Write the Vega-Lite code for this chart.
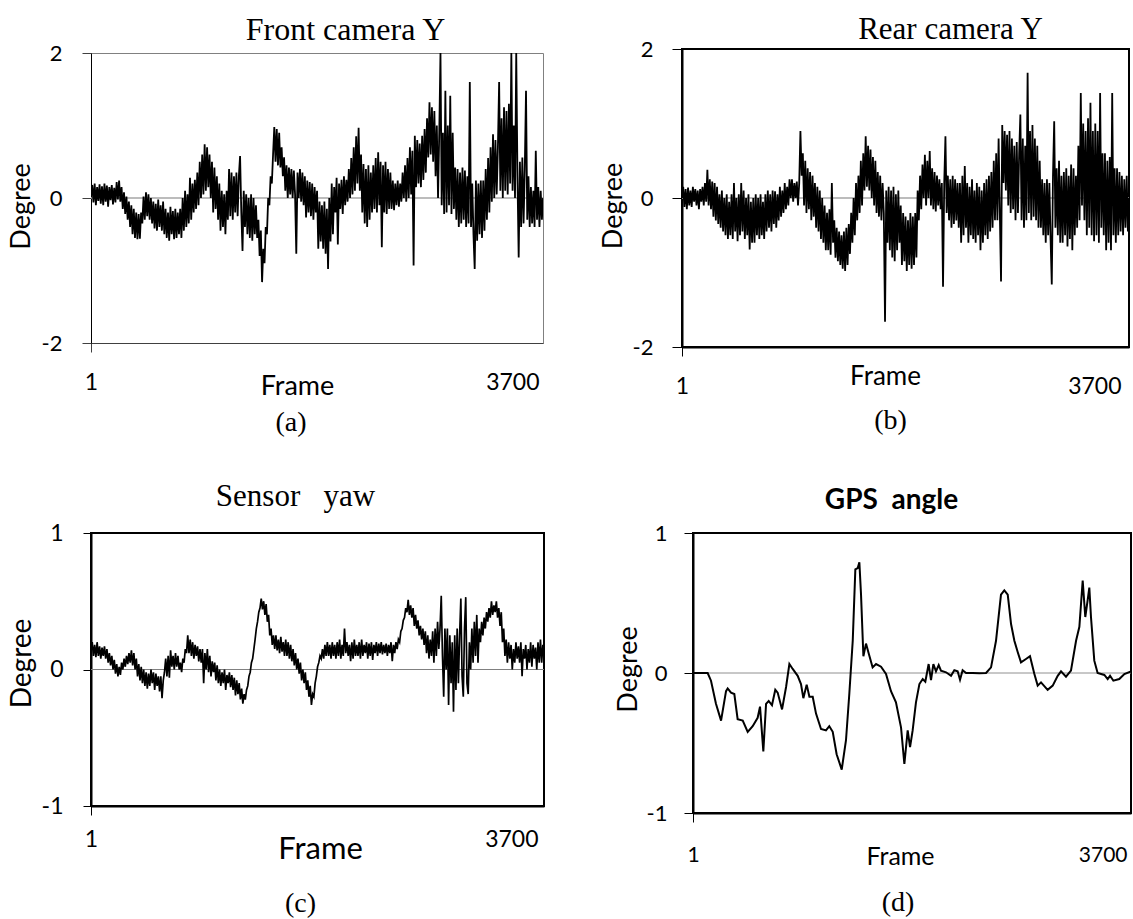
{
  "$schema": "https://vega.github.io/schema/vega-lite/v6.json",
  "background": "white",
  "padding": {"left": 7, "top": 12, "right": 0, "bottom": 0},
  "bounds": "flush",
  "spacing": 484,
  "datasets": {
    "a": [
{"f":1,"v":0.05},{"f":11,"v":0.18},{"f":21,"v":-0.06},{"f":31,"v":0.2},{"f":41,"v":-0.1},{"f":51,"v":0.15},{"f":61,"v":-0.04},{"f":71,"v":0.19},{"f":81,"v":-0.08},{"f":91,"v":0.16},
{"f":101,"v":-0.1},{"f":111,"v":0.2},{"f":121,"v":-0.05},{"f":131,"v":0.17},{"f":141,"v":-0.12},{"f":151,"v":0.15},{"f":161,"v":-0.03},{"f":171,"v":0.18},{"f":181,"v":-0.09},{"f":191,"v":0.14},
{"f":201,"v":-0.06},{"f":211,"v":0.22},{"f":221,"v":-0.02},{"f":231,"v":0.24},{"f":241,"v":-0.05},{"f":251,"v":0.15},{"f":261,"v":-0.15},{"f":271,"v":0.08},{"f":281,"v":-0.22},{"f":291,"v":0.02},
{"f":301,"v":-0.3},{"f":311,"v":-0.05},{"f":321,"v":-0.4},{"f":331,"v":-0.1},{"f":341,"v":-0.5},{"f":351,"v":-0.15},{"f":361,"v":-0.55},{"f":371,"v":-0.2},{"f":381,"v":-0.57},{"f":391,"v":-0.22},
{"f":401,"v":-0.56},{"f":411,"v":-0.2},{"f":421,"v":-0.35},{"f":431,"v":0.02},{"f":441,"v":-0.3},{"f":451,"v":0.08},{"f":461,"v":-0.25},{"f":471,"v":0.05},{"f":481,"v":-0.3},{"f":491,"v":0.0},
{"f":501,"v":-0.35},{"f":511,"v":-0.05},{"f":521,"v":-0.42},{"f":531,"v":-0.08},{"f":541,"v":-0.45},{"f":551,"v":-0.02},{"f":561,"v":-0.4},{"f":571,"v":-0.1},{"f":581,"v":-0.45},{"f":591,"v":-0.05},
{"f":601,"v":-0.5},{"f":611,"v":-0.15},{"f":621,"v":-0.55},{"f":631,"v":-0.2},{"f":641,"v":-0.59},{"f":651,"v":-0.12},{"f":661,"v":-0.5},{"f":671,"v":-0.18},{"f":681,"v":-0.57},{"f":691,"v":-0.15},
{"f":701,"v":-0.55},{"f":711,"v":-0.2},{"f":721,"v":-0.5},{"f":731,"v":-0.15},{"f":741,"v":-0.55},{"f":751,"v":0.0},{"f":761,"v":-0.45},{"f":771,"v":0.1},{"f":781,"v":-0.4},{"f":791,"v":0.05},
{"f":801,"v":-0.35},{"f":811,"v":0.28},{"f":821,"v":-0.3},{"f":831,"v":0.2},{"f":841,"v":-0.2},{"f":851,"v":0.25},{"f":861,"v":-0.15},{"f":871,"v":0.35},{"f":881,"v":-0.1},{"f":891,"v":0.5},
{"f":901,"v":0.0},{"f":911,"v":0.6},{"f":921,"v":0.05},{"f":931,"v":0.74},{"f":941,"v":0.1},{"f":951,"v":0.7},{"f":961,"v":0.15},{"f":971,"v":0.6},{"f":981,"v":0.0},{"f":991,"v":0.5},
{"f":1001,"v":-0.2},{"f":1011,"v":0.42},{"f":1021,"v":-0.15},{"f":1031,"v":0.3},{"f":1041,"v":-0.3},{"f":1051,"v":0.2},{"f":1061,"v":-0.45},{"f":1071,"v":0.1},{"f":1081,"v":-0.4},{"f":1091,"v":0.05},
{"f":1101,"v":-0.5},{"f":1111,"v":0.1},{"f":1121,"v":-0.3},{"f":1131,"v":0.4},{"f":1141,"v":-0.25},{"f":1151,"v":0.35},{"f":1161,"v":-0.3},{"f":1171,"v":0.3},{"f":1181,"v":-0.2},{"f":1191,"v":0.35},
{"f":1201,"v":-0.25},{"f":1211,"v":0.3},{"f":1221,"v":0.58},{"f":1231,"v":-0.2},{"f":1241,"v":-0.73},{"f":1251,"v":0.1},{"f":1261,"v":-0.4},{"f":1271,"v":0.05},{"f":1281,"v":-0.5},{"f":1291,"v":0.0},
{"f":1301,"v":-0.55},{"f":1311,"v":0.05},{"f":1321,"v":-0.59},{"f":1331,"v":0.0},{"f":1341,"v":-0.5},{"f":1351,"v":-0.1},{"f":1361,"v":-0.55},{"f":1371,"v":-0.3},{"f":1381,"v":-0.8},{"f":1391,"v":-0.45},
{"f":1401,"v":-1.16},{"f":1411,"v":-0.7},{"f":1421,"v":-0.9},{"f":1431,"v":-0.4},{"f":1441,"v":-0.5},{"f":1451,"v":0.0},{"f":1461,"v":-0.1},{"f":1471,"v":0.3},{"f":1481,"v":0.2},{"f":1491,"v":0.6},
{"f":1501,"v":0.98},{"f":1511,"v":0.5},{"f":1521,"v":0.95},{"f":1531,"v":0.45},{"f":1541,"v":0.9},{"f":1551,"v":0.42},{"f":1561,"v":0.7},{"f":1571,"v":0.3},{"f":1581,"v":0.56},{"f":1591,"v":0.1},
{"f":1601,"v":0.45},{"f":1611,"v":0.0},{"f":1621,"v":0.42},{"f":1631,"v":0.05},{"f":1641,"v":0.4},{"f":1651,"v":0.0},{"f":1661,"v":0.38},{"f":1671,"v":0.05},{"f":1681,"v":-0.77},{"f":1691,"v":0.35},
{"f":1701,"v":0.0},{"f":1711,"v":0.4},{"f":1721,"v":-0.05},{"f":1731,"v":0.35},{"f":1741,"v":-0.1},{"f":1751,"v":0.3},{"f":1761,"v":-0.27},{"f":1771,"v":0.24},{"f":1781,"v":-0.2},{"f":1791,"v":0.22},
{"f":1801,"v":-0.25},{"f":1811,"v":0.2},{"f":1821,"v":-0.3},{"f":1831,"v":0.15},{"f":1841,"v":-0.2},{"f":1851,"v":0.1},{"f":1861,"v":-0.7},{"f":1871,"v":-0.05},{"f":1881,"v":-0.6},{"f":1891,"v":-0.1},
{"f":1901,"v":-0.7},{"f":1911,"v":-0.05},{"f":1921,"v":-0.77},{"f":1931,"v":-0.15},{"f":1941,"v":-0.98},{"f":1951,"v":0.0},{"f":1961,"v":-0.6},{"f":1971,"v":0.2},{"f":1981,"v":-0.5},{"f":1991,"v":0.15},
{"f":2001,"v":-0.2},{"f":2011,"v":0.28},{"f":2021,"v":-0.64},{"f":2031,"v":0.2},{"f":2041,"v":-0.15},{"f":2051,"v":0.25},{"f":2061,"v":-0.22},{"f":2071,"v":0.3},{"f":2081,"v":-0.1},{"f":2091,"v":0.25},
{"f":2101,"v":-0.05},{"f":2111,"v":0.4},{"f":2121,"v":0.0},{"f":2131,"v":0.55},{"f":2141,"v":0.05},{"f":2151,"v":0.7},{"f":2161,"v":0.1},{"f":2171,"v":0.85},{"f":2181,"v":0.2},{"f":2191,"v":0.97},
{"f":2201,"v":0.1},{"f":2211,"v":0.6},{"f":2221,"v":-0.2},{"f":2231,"v":0.47},{"f":2241,"v":-0.35},{"f":2251,"v":0.4},{"f":2261,"v":-0.4},{"f":2271,"v":0.45},{"f":2281,"v":-0.3},{"f":2291,"v":0.35},
{"f":2301,"v":-0.2},{"f":2311,"v":0.45},{"f":2321,"v":-0.15},{"f":2331,"v":0.55},{"f":2341,"v":-0.2},{"f":2351,"v":0.63},{"f":2361,"v":-0.1},{"f":2371,"v":0.5},{"f":2381,"v":-0.68},{"f":2391,"v":0.45},
{"f":2401,"v":-0.2},{"f":2411,"v":0.5},{"f":2421,"v":-0.22},{"f":2431,"v":0.4},{"f":2441,"v":-0.15},{"f":2451,"v":0.35},{"f":2461,"v":-0.15},{"f":2471,"v":0.24},{"f":2481,"v":-0.17},{"f":2491,"v":0.2},
{"f":2501,"v":-0.1},{"f":2511,"v":0.24},{"f":2521,"v":-0.12},{"f":2531,"v":0.2},{"f":2541,"v":-0.05},{"f":2551,"v":0.35},{"f":2561,"v":0.0},{"f":2571,"v":0.45},{"f":2581,"v":-0.05},{"f":2591,"v":0.55},
{"f":2601,"v":0.0},{"f":2611,"v":0.7},{"f":2621,"v":0.05},{"f":2631,"v":0.65},{"f":2641,"v":-0.93},{"f":2651,"v":0.86},{"f":2661,"v":0.15},{"f":2671,"v":0.8},{"f":2681,"v":0.2},{"f":2691,"v":0.75},
{"f":2701,"v":0.15},{"f":2711,"v":0.86},{"f":2721,"v":0.25},{"f":2731,"v":0.95},{"f":2741,"v":0.35},{"f":2751,"v":1.1},{"f":2761,"v":0.56},{"f":2771,"v":1.32},{"f":2781,"v":0.6},{"f":2791,"v":1.25},
{"f":2801,"v":0.5},{"f":2811,"v":1.2},{"f":2821,"v":0.3},{"f":2831,"v":1.0},{"f":2841,"v":0.0},{"f":2851,"v":0.9},{"f":2861,"v":2.0},{"f":2871,"v":-0.1},{"f":2881,"v":0.9},{"f":2891,"v":-0.22},
{"f":2901,"v":1.48},{"f":2911,"v":-0.2},{"f":2921,"v":1.0},{"f":2931,"v":-0.1},{"f":2941,"v":1.41},{"f":2951,"v":-0.22},{"f":2961,"v":0.9},{"f":2971,"v":-0.15},{"f":2981,"v":0.42},{"f":2991,"v":-0.3},
{"f":3001,"v":0.4},{"f":3011,"v":-0.4},{"f":3021,"v":0.35},{"f":3031,"v":-0.35},{"f":3041,"v":0.42},{"f":3051,"v":-0.3},{"f":3061,"v":0.38},{"f":3071,"v":-0.4},{"f":3081,"v":0.3},{"f":3091,"v":-0.35},
{"f":3101,"v":1.6},{"f":3111,"v":-0.4},{"f":3121,"v":0.2},{"f":3131,"v":-0.5},{"f":3141,"v":-0.98},{"f":3151,"v":0.24},{"f":3161,"v":-0.59},{"f":3171,"v":0.2},{"f":3181,"v":-0.5},{"f":3191,"v":0.24},
{"f":3201,"v":-0.55},{"f":3211,"v":0.24},{"f":3221,"v":-0.45},{"f":3231,"v":0.4},{"f":3241,"v":-0.3},{"f":3251,"v":0.55},{"f":3261,"v":-0.2},{"f":3271,"v":0.7},{"f":3281,"v":-0.05},{"f":3291,"v":0.88},
{"f":3301,"v":0.0},{"f":3311,"v":0.8},{"f":3321,"v":0.05},{"f":3331,"v":0.7},{"f":3341,"v":1.6},{"f":3351,"v":0.1},{"f":3361,"v":1.1},{"f":3371,"v":0.0},{"f":3381,"v":1.25},{"f":3391,"v":0.1},
{"f":3401,"v":1.2},{"f":3411,"v":0.05},{"f":3421,"v":1.3},{"f":3431,"v":0.2},{"f":3441,"v":2.0},{"f":3451,"v":0.1},{"f":3461,"v":1.0},{"f":3471,"v":0.0},{"f":3481,"v":2.0},{"f":3491,"v":0.3},
{"f":3501,"v":-0.82},{"f":3511,"v":0.5},{"f":3521,"v":-0.4},{"f":3531,"v":0.56},{"f":3541,"v":-0.35},{"f":3551,"v":0.4},{"f":3561,"v":1.48},{"f":3571,"v":-0.3},{"f":3581,"v":0.3},{"f":3591,"v":-0.4},
{"f":3601,"v":0.15},{"f":3611,"v":-0.35},{"f":3621,"v":0.1},{"f":3631,"v":-0.4},{"f":3641,"v":0.65},{"f":3651,"v":-0.3},{"f":3661,"v":0.15},{"f":3671,"v":-0.4},{"f":3681,"v":0.1},{"f":3691,"v":-0.3},
{"f":3700,"v":0.0}],
    "b": [
{"f":1,"v":0.0},{"f":11,"v":0.15},{"f":21,"v":-0.12},{"f":31,"v":0.12},{"f":41,"v":-0.15},{"f":51,"v":0.14},{"f":61,"v":-0.1},{"f":71,"v":0.1},{"f":81,"v":-0.12},{"f":91,"v":0.15},
{"f":101,"v":-0.05},{"f":111,"v":0.12},{"f":121,"v":-0.1},{"f":131,"v":0.1},{"f":141,"v":-0.15},{"f":151,"v":0.12},{"f":161,"v":-0.05},{"f":171,"v":0.15},{"f":181,"v":-0.1},{"f":191,"v":0.2},
{"f":201,"v":-0.05},{"f":211,"v":0.38},{"f":221,"v":-0.1},{"f":231,"v":0.25},{"f":241,"v":-0.15},{"f":251,"v":0.22},{"f":261,"v":-0.25},{"f":271,"v":0.2},{"f":281,"v":-0.3},{"f":291,"v":0.15},
{"f":301,"v":-0.35},{"f":311,"v":0.05},{"f":321,"v":-0.4},{"f":331,"v":0.1},{"f":341,"v":-0.45},{"f":351,"v":0.0},{"f":361,"v":-0.5},{"f":371,"v":0.05},{"f":381,"v":-0.55},{"f":391,"v":-0.05},
{"f":401,"v":-0.5},{"f":411,"v":0.05},{"f":421,"v":-0.55},{"f":431,"v":0.2},{"f":441,"v":-0.45},{"f":451,"v":0.0},{"f":461,"v":-0.58},{"f":471,"v":0.05},{"f":481,"v":-0.5},{"f":491,"v":0.2},
{"f":501,"v":-0.45},{"f":511,"v":0.1},{"f":521,"v":-0.55},{"f":531,"v":0.0},{"f":541,"v":-0.5},{"f":551,"v":0.05},{"f":561,"v":-0.69},{"f":571,"v":-0.05},{"f":581,"v":-0.6},{"f":591,"v":0.0},
{"f":601,"v":-0.6},{"f":611,"v":0.05},{"f":621,"v":-0.5},{"f":631,"v":0.0},{"f":641,"v":-0.55},{"f":651,"v":0.05},{"f":661,"v":-0.5},{"f":671,"v":-0.05},{"f":681,"v":-0.55},{"f":691,"v":0.05},
{"f":701,"v":-0.45},{"f":711,"v":0.1},{"f":721,"v":-0.4},{"f":731,"v":0.05},{"f":741,"v":-0.45},{"f":751,"v":0.1},{"f":761,"v":-0.35},{"f":771,"v":0.09},{"f":781,"v":-0.4},{"f":791,"v":0.05},
{"f":801,"v":-0.3},{"f":811,"v":0.15},{"f":821,"v":-0.25},{"f":831,"v":0.1},{"f":841,"v":-0.2},{"f":851,"v":0.2},{"f":861,"v":-0.15},{"f":871,"v":0.15},{"f":881,"v":-0.1},{"f":891,"v":0.25},
{"f":901,"v":0.0},{"f":911,"v":0.25},{"f":921,"v":-0.05},{"f":931,"v":0.2},{"f":941,"v":0.0},{"f":951,"v":0.22},{"f":961,"v":-0.1},{"f":971,"v":0.2},{"f":981,"v":0.9},{"f":991,"v":0.3},
{"f":1001,"v":0.6},{"f":1011,"v":-0.1},{"f":1021,"v":0.5},{"f":1031,"v":-0.2},{"f":1041,"v":0.4},{"f":1051,"v":-0.15},{"f":1061,"v":0.35},{"f":1071,"v":-0.3},{"f":1081,"v":0.3},{"f":1091,"v":-0.25},
{"f":1101,"v":0.2},{"f":1111,"v":-0.4},{"f":1121,"v":0.15},{"f":1131,"v":-0.45},{"f":1141,"v":0.1},{"f":1151,"v":-0.55},{"f":1161,"v":0.0},{"f":1171,"v":-0.6},{"f":1181,"v":-0.1},{"f":1191,"v":-0.7},
{"f":1201,"v":-0.2},{"f":1211,"v":-0.7},{"f":1221,"v":-0.15},{"f":1231,"v":-0.76},{"f":1241,"v":0.2},{"f":1251,"v":-0.6},{"f":1261,"v":-0.3},{"f":1271,"v":-0.8},{"f":1281,"v":-0.4},{"f":1291,"v":-0.85},
{"f":1301,"v":-0.45},{"f":1311,"v":-0.9},{"f":1321,"v":-0.5},{"f":1331,"v":-0.95},{"f":1341,"v":-0.45},{"f":1351,"v":-0.98},{"f":1361,"v":-0.4},{"f":1371,"v":-0.9},{"f":1381,"v":-0.35},{"f":1391,"v":-0.75},
{"f":1401,"v":-0.2},{"f":1411,"v":-0.6},{"f":1421,"v":0.0},{"f":1431,"v":-0.5},{"f":1441,"v":0.2},{"f":1451,"v":-0.3},{"f":1461,"v":0.3},{"f":1471,"v":-0.2},{"f":1481,"v":0.5},{"f":1491,"v":-0.1},
{"f":1501,"v":0.6},{"f":1511,"v":0.1},{"f":1521,"v":0.83},{"f":1531,"v":0.15},{"f":1541,"v":0.7},{"f":1551,"v":0.1},{"f":1561,"v":0.65},{"f":1571,"v":0.0},{"f":1581,"v":0.55},{"f":1591,"v":-0.1},
{"f":1601,"v":0.5},{"f":1611,"v":-0.2},{"f":1621,"v":0.35},{"f":1631,"v":-0.25},{"f":1641,"v":0.3},{"f":1651,"v":-0.3},{"f":1661,"v":0.2},{"f":1671,"v":-0.2},{"f":1681,"v":-1.66},{"f":1691,"v":0.1},
{"f":1701,"v":-0.6},{"f":1711,"v":0.15},{"f":1721,"v":-0.7},{"f":1731,"v":0.1},{"f":1741,"v":-0.8},{"f":1751,"v":0.15},{"f":1761,"v":-0.85},{"f":1771,"v":0.05},{"f":1781,"v":-0.7},{"f":1791,"v":0.1},
{"f":1801,"v":-0.6},{"f":1811,"v":-0.1},{"f":1821,"v":-0.9},{"f":1831,"v":-0.2},{"f":1841,"v":-0.85},{"f":1851,"v":-0.25},{"f":1861,"v":-0.98},{"f":1871,"v":-0.3},{"f":1881,"v":-0.9},{"f":1891,"v":-0.2},
{"f":1901,"v":-0.95},{"f":1911,"v":-0.25},{"f":1921,"v":-0.9},{"f":1931,"v":-0.2},{"f":1941,"v":-0.8},{"f":1951,"v":0.1},{"f":1961,"v":-0.3},{"f":1971,"v":0.3},{"f":1981,"v":-0.15},{"f":1991,"v":0.45},
{"f":2001,"v":0.0},{"f":2011,"v":0.58},{"f":2021,"v":-0.1},{"f":2031,"v":0.5},{"f":2041,"v":0.0},{"f":2051,"v":0.63},{"f":2061,"v":-0.1},{"f":2071,"v":0.4},{"f":2081,"v":-0.15},{"f":2091,"v":0.35},
{"f":2101,"v":-0.18},{"f":2111,"v":0.3},{"f":2121,"v":-0.1},{"f":2131,"v":0.25},{"f":2141,"v":-0.15},{"f":2151,"v":0.2},{"f":2161,"v":-1.19},{"f":2171,"v":0.2},{"f":2181,"v":0.83},{"f":2191,"v":-0.2},
{"f":2201,"v":0.3},{"f":2211,"v":-0.3},{"f":2221,"v":0.25},{"f":2231,"v":-0.4},{"f":2241,"v":0.3},{"f":2251,"v":-0.35},{"f":2261,"v":0.25},{"f":2271,"v":-0.3},{"f":2281,"v":0.2},{"f":2291,"v":-0.4},
{"f":2301,"v":0.2},{"f":2311,"v":-0.6},{"f":2321,"v":0.3},{"f":2331,"v":-0.5},{"f":2341,"v":0.43},{"f":2351,"v":-0.4},{"f":2361,"v":0.2},{"f":2371,"v":-0.6},{"f":2381,"v":0.15},{"f":2391,"v":-0.5},
{"f":2401,"v":0.25},{"f":2411,"v":-0.55},{"f":2421,"v":0.1},{"f":2431,"v":-0.6},{"f":2441,"v":0.2},{"f":2451,"v":-0.5},{"f":2461,"v":0.15},{"f":2471,"v":-0.7},{"f":2481,"v":0.1},{"f":2491,"v":-0.6},
{"f":2501,"v":0.2},{"f":2511,"v":-0.5},{"f":2521,"v":0.25},{"f":2531,"v":-0.55},{"f":2541,"v":0.3},{"f":2551,"v":-0.45},{"f":2561,"v":0.35},{"f":2571,"v":-0.4},{"f":2581,"v":0.5},{"f":2591,"v":-0.3},
{"f":2601,"v":0.6},{"f":2611,"v":-0.3},{"f":2621,"v":0.8},{"f":2631,"v":-0.2},{"f":2641,"v":-1.12},{"f":2651,"v":0.98},{"f":2661,"v":0.2},{"f":2671,"v":0.9},{"f":2681,"v":0.1},{"f":2691,"v":0.85},
{"f":2701,"v":-0.1},{"f":2711,"v":0.9},{"f":2721,"v":-0.2},{"f":2731,"v":0.8},{"f":2741,"v":-0.15},{"f":2751,"v":0.7},{"f":2761,"v":-0.3},{"f":2771,"v":0.75},{"f":2781,"v":-0.2},{"f":2791,"v":0.6},
{"f":2801,"v":1.12},{"f":2811,"v":-0.3},{"f":2821,"v":0.8},{"f":2831,"v":-0.4},{"f":2841,"v":0.7},{"f":2851,"v":-0.3},{"f":2861,"v":1.68},{"f":2871,"v":-0.2},{"f":2881,"v":0.9},{"f":2891,"v":-0.3},
{"f":2901,"v":0.98},{"f":2911,"v":-0.25},{"f":2921,"v":0.8},{"f":2931,"v":-0.3},{"f":2941,"v":0.7},{"f":2951,"v":-0.4},{"f":2961,"v":0.5},{"f":2971,"v":-0.4},{"f":2981,"v":0.25},{"f":2991,"v":-0.5},
{"f":3001,"v":0.2},{"f":3011,"v":-0.6},{"f":3021,"v":0.25},{"f":3031,"v":-0.5},{"f":3041,"v":0.2},{"f":3051,"v":-0.55},{"f":3061,"v":-1.16},{"f":3071,"v":0.3},{"f":3081,"v":1.03},{"f":3091,"v":-0.4},
{"f":3101,"v":0.4},{"f":3111,"v":-0.5},{"f":3121,"v":0.5},{"f":3131,"v":-0.6},{"f":3141,"v":0.3},{"f":3151,"v":-0.6},{"f":3161,"v":0.35},{"f":3171,"v":-0.5},{"f":3181,"v":0.4},{"f":3191,"v":-0.65},
{"f":3201,"v":0.3},{"f":3211,"v":-0.55},{"f":3221,"v":0.45},{"f":3231,"v":-0.7},{"f":3241,"v":0.4},{"f":3251,"v":-0.5},{"f":3261,"v":0.3},{"f":3271,"v":-0.4},{"f":3281,"v":0.7},{"f":3291,"v":-0.3},
{"f":3301,"v":1.41},{"f":3311,"v":-0.1},{"f":3321,"v":1.0},{"f":3331,"v":-0.3},{"f":3341,"v":0.9},{"f":3351,"v":-0.5},{"f":3361,"v":1.07},{"f":3371,"v":-0.4},{"f":3381,"v":1.28},{"f":3391,"v":-0.5},
{"f":3401,"v":0.9},{"f":3411,"v":-0.58},{"f":3421,"v":1.0},{"f":3431,"v":-0.5},{"f":3441,"v":0.9},{"f":3451,"v":-0.6},{"f":3461,"v":1.41},{"f":3471,"v":-0.4},{"f":3481,"v":0.6},{"f":3491,"v":-0.5},
{"f":3501,"v":0.6},{"f":3511,"v":-0.7},{"f":3521,"v":0.5},{"f":3531,"v":-0.6},{"f":3541,"v":0.55},{"f":3551,"v":-0.7},{"f":3561,"v":1.41},{"f":3571,"v":-0.5},{"f":3581,"v":0.4},{"f":3591,"v":-0.6},
{"f":3601,"v":0.4},{"f":3611,"v":-0.5},{"f":3621,"v":0.35},{"f":3631,"v":-0.45},{"f":3641,"v":0.3},{"f":3651,"v":-0.5},{"f":3661,"v":0.25},{"f":3671,"v":-0.4},{"f":3681,"v":0.3},{"f":3691,"v":-0.45},
{"f":3700,"v":0.0}],
    "c": [
{"f":1,"v":0.15},{"f":11,"v":0.2},{"f":21,"v":0.1},{"f":31,"v":0.18},{"f":41,"v":0.09},{"f":51,"v":0.2},{"f":61,"v":0.1},{"f":71,"v":0.17},{"f":81,"v":0.08},{"f":91,"v":0.16},
{"f":101,"v":0.1},{"f":111,"v":0.17},{"f":121,"v":0.08},{"f":131,"v":0.15},{"f":141,"v":0.05},{"f":151,"v":0.12},{"f":161,"v":0.03},{"f":171,"v":0.1},{"f":181,"v":0.0},{"f":191,"v":0.07},
{"f":201,"v":-0.03},{"f":211,"v":0.04},{"f":221,"v":-0.05},{"f":231,"v":0.02},{"f":241,"v":-0.04},{"f":251,"v":0.05},{"f":261,"v":0.0},{"f":271,"v":0.08},{"f":281,"v":0.02},{"f":291,"v":0.1},
{"f":301,"v":0.04},{"f":311,"v":0.12},{"f":321,"v":0.05},{"f":331,"v":0.14},{"f":341,"v":0.03},{"f":351,"v":0.12},{"f":361,"v":0.0},{"f":371,"v":0.08},{"f":381,"v":-0.05},{"f":391,"v":0.04},
{"f":401,"v":-0.08},{"f":411,"v":0.02},{"f":421,"v":-0.1},{"f":431,"v":0.0},{"f":441,"v":-0.12},{"f":451,"v":-0.02},{"f":461,"v":-0.14},{"f":471,"v":-0.03},{"f":481,"v":-0.12},{"f":491,"v":0.0},
{"f":501,"v":-0.1},{"f":511,"v":-0.02},{"f":521,"v":-0.15},{"f":531,"v":-0.03},{"f":541,"v":-0.12},{"f":551,"v":-0.05},{"f":561,"v":-0.16},{"f":571,"v":-0.05},{"f":581,"v":-0.21},{"f":591,"v":-0.08},
{"f":601,"v":-0.02},{"f":611,"v":0.08},{"f":621,"v":-0.05},{"f":631,"v":0.1},{"f":641,"v":-0.06},{"f":651,"v":0.14},{"f":661,"v":0.02},{"f":671,"v":0.1},{"f":681,"v":0.0},{"f":691,"v":0.12},
{"f":701,"v":0.02},{"f":711,"v":0.1},{"f":721,"v":0.0},{"f":731,"v":0.05},{"f":741,"v":-0.02},{"f":751,"v":0.08},{"f":761,"v":0.05},{"f":771,"v":0.15},{"f":781,"v":0.12},{"f":791,"v":0.25},
{"f":801,"v":0.12},{"f":811,"v":0.22},{"f":821,"v":0.1},{"f":831,"v":0.2},{"f":841,"v":0.08},{"f":851,"v":0.18},{"f":861,"v":0.1},{"f":871,"v":0.17},{"f":881,"v":0.06},{"f":891,"v":0.15},
{"f":901,"v":0.05},{"f":911,"v":0.15},{"f":921,"v":-0.1},{"f":931,"v":0.12},{"f":941,"v":0.0},{"f":951,"v":0.15},{"f":961,"v":-0.02},{"f":971,"v":0.1},{"f":981,"v":-0.05},{"f":991,"v":0.06},
{"f":1001,"v":-0.02},{"f":1011,"v":0.05},{"f":1021,"v":-0.08},{"f":1031,"v":0.03},{"f":1041,"v":-0.1},{"f":1051,"v":0.0},{"f":1061,"v":-0.12},{"f":1071,"v":-0.02},{"f":1081,"v":-0.1},{"f":1091,"v":0.0},
{"f":1101,"v":-0.15},{"f":1111,"v":-0.04},{"f":1121,"v":-0.1},{"f":1131,"v":-0.02},{"f":1141,"v":-0.13},{"f":1151,"v":-0.04},{"f":1161,"v":-0.15},{"f":1171,"v":-0.06},{"f":1181,"v":-0.19},{"f":1191,"v":-0.08},
{"f":1201,"v":-0.18},{"f":1211,"v":-0.1},{"f":1221,"v":-0.22},{"f":1231,"v":-0.14},{"f":1241,"v":-0.25},{"f":1251,"v":-0.18},{"f":1261,"v":-0.22},{"f":1271,"v":-0.15},{"f":1281,"v":-0.12},{"f":1291,"v":-0.05},
{"f":1301,"v":-0.02},{"f":1311,"v":0.05},{"f":1321,"v":0.08},{"f":1331,"v":0.15},{"f":1341,"v":0.22},{"f":1351,"v":0.3},{"f":1361,"v":0.35},{"f":1371,"v":0.42},{"f":1381,"v":0.45},{"f":1391,"v":0.52},
{"f":1401,"v":0.44},{"f":1411,"v":0.5},{"f":1421,"v":0.4},{"f":1431,"v":0.48},{"f":1441,"v":0.35},{"f":1451,"v":0.4},{"f":1461,"v":0.25},{"f":1471,"v":0.3},{"f":1481,"v":0.18},{"f":1491,"v":0.25},
{"f":1501,"v":0.15},{"f":1511,"v":0.25},{"f":1521,"v":0.14},{"f":1531,"v":0.22},{"f":1541,"v":0.12},{"f":1551,"v":0.24},{"f":1561,"v":0.13},{"f":1571,"v":0.2},{"f":1581,"v":0.1},{"f":1591,"v":0.22},
{"f":1601,"v":0.1},{"f":1611,"v":0.2},{"f":1621,"v":0.08},{"f":1631,"v":0.18},{"f":1641,"v":0.06},{"f":1651,"v":0.15},{"f":1661,"v":0.03},{"f":1671,"v":0.12},{"f":1681,"v":0.0},{"f":1691,"v":0.08},
{"f":1701,"v":-0.03},{"f":1711,"v":0.05},{"f":1721,"v":-0.08},{"f":1731,"v":0.0},{"f":1741,"v":-0.1},{"f":1751,"v":-0.02},{"f":1761,"v":-0.15},{"f":1771,"v":-0.08},{"f":1781,"v":-0.2},{"f":1791,"v":-0.12},
{"f":1801,"v":-0.26},{"f":1811,"v":-0.18},{"f":1821,"v":-0.2},{"f":1831,"v":-0.1},{"f":1841,"v":-0.05},{"f":1851,"v":0.02},{"f":1861,"v":0.05},{"f":1871,"v":0.1},{"f":1881,"v":0.08},{"f":1891,"v":0.15},
{"f":1901,"v":0.08},{"f":1911,"v":0.18},{"f":1921,"v":0.1},{"f":1931,"v":0.2},{"f":1941,"v":0.1},{"f":1951,"v":0.18},{"f":1961,"v":0.08},{"f":1971,"v":0.2},{"f":1981,"v":0.1},{"f":1991,"v":0.18},
{"f":2001,"v":0.08},{"f":2011,"v":0.2},{"f":2021,"v":0.1},{"f":2031,"v":0.22},{"f":2041,"v":0.08},{"f":2051,"v":0.18},{"f":2061,"v":0.1},{"f":2071,"v":0.3},{"f":2081,"v":0.12},{"f":2091,"v":0.2},
{"f":2101,"v":0.1},{"f":2111,"v":0.18},{"f":2121,"v":0.06},{"f":2131,"v":0.2},{"f":2141,"v":0.08},{"f":2151,"v":0.22},{"f":2161,"v":0.1},{"f":2171,"v":0.18},{"f":2181,"v":0.1},{"f":2191,"v":0.2},
{"f":2201,"v":0.08},{"f":2211,"v":0.22},{"f":2221,"v":0.1},{"f":2231,"v":0.18},{"f":2241,"v":0.12},{"f":2251,"v":0.2},{"f":2261,"v":0.08},{"f":2271,"v":0.19},{"f":2281,"v":0.1},{"f":2291,"v":0.2},
{"f":2301,"v":0.07},{"f":2311,"v":0.18},{"f":2321,"v":0.12},{"f":2331,"v":0.2},{"f":2341,"v":0.1},{"f":2351,"v":0.19},{"f":2361,"v":0.12},{"f":2371,"v":0.2},{"f":2381,"v":0.11},{"f":2391,"v":0.18},
{"f":2401,"v":0.12},{"f":2411,"v":0.19},{"f":2421,"v":0.1},{"f":2431,"v":0.18},{"f":2441,"v":0.12},{"f":2451,"v":0.2},{"f":2461,"v":0.06},{"f":2471,"v":0.18},{"f":2481,"v":0.12},{"f":2491,"v":0.2},
{"f":2501,"v":0.15},{"f":2511,"v":0.22},{"f":2521,"v":0.2},{"f":2531,"v":0.28},{"f":2541,"v":0.3},{"f":2551,"v":0.36},{"f":2561,"v":0.38},{"f":2571,"v":0.45},{"f":2581,"v":0.42},{"f":2591,"v":0.51},
{"f":2601,"v":0.4},{"f":2611,"v":0.47},{"f":2621,"v":0.38},{"f":2631,"v":0.45},{"f":2641,"v":0.32},{"f":2651,"v":0.4},{"f":2661,"v":0.3},{"f":2671,"v":0.36},{"f":2681,"v":0.25},{"f":2691,"v":0.32},
{"f":2701,"v":0.22},{"f":2711,"v":0.3},{"f":2721,"v":0.18},{"f":2731,"v":0.28},{"f":2741,"v":0.12},{"f":2751,"v":0.25},{"f":2761,"v":0.08},{"f":2771,"v":0.22},{"f":2781,"v":0.1},{"f":2791,"v":0.28},
{"f":2801,"v":0.05},{"f":2811,"v":0.3},{"f":2821,"v":0.1},{"f":2831,"v":0.35},{"f":2841,"v":0.15},{"f":2851,"v":0.3},{"f":2861,"v":0.54},{"f":2871,"v":0.1},{"f":2881,"v":-0.2},{"f":2891,"v":0.3},
{"f":2901,"v":0.0},{"f":2911,"v":0.3},{"f":2921,"v":-0.26},{"f":2931,"v":0.25},{"f":2941,"v":-0.1},{"f":2951,"v":0.2},{"f":2961,"v":-0.31},{"f":2971,"v":0.25},{"f":2981,"v":-0.15},{"f":2991,"v":0.3},
{"f":3001,"v":-0.1},{"f":3011,"v":0.25},{"f":3021,"v":0.52},{"f":3031,"v":-0.05},{"f":3041,"v":-0.2},{"f":3051,"v":0.3},{"f":3061,"v":0.53},{"f":3071,"v":-0.1},{"f":3081,"v":-0.18},{"f":3091,"v":0.2},
{"f":3101,"v":0.0},{"f":3111,"v":0.3},{"f":3121,"v":0.05},{"f":3131,"v":0.35},{"f":3141,"v":0.1},{"f":3151,"v":0.4},{"f":3161,"v":0.05},{"f":3171,"v":0.3},{"f":3181,"v":0.2},{"f":3191,"v":0.35},
{"f":3201,"v":0.25},{"f":3211,"v":0.38},{"f":3221,"v":0.3},{"f":3231,"v":0.42},{"f":3241,"v":0.35},{"f":3251,"v":0.45},{"f":3261,"v":0.38},{"f":3271,"v":0.5},{"f":3281,"v":0.4},{"f":3291,"v":0.47},
{"f":3301,"v":0.42},{"f":3311,"v":0.5},{"f":3321,"v":0.38},{"f":3331,"v":0.45},{"f":3341,"v":0.32},{"f":3351,"v":0.42},{"f":3361,"v":0.2},{"f":3371,"v":0.3},{"f":3381,"v":0.1},{"f":3391,"v":0.22},
{"f":3401,"v":0.05},{"f":3411,"v":0.2},{"f":3421,"v":0.08},{"f":3431,"v":0.18},{"f":3441,"v":0.0},{"f":3451,"v":0.15},{"f":3461,"v":0.05},{"f":3471,"v":0.2},{"f":3481,"v":0.08},{"f":3491,"v":0.17},
{"f":3501,"v":0.05},{"f":3511,"v":0.2},{"f":3521,"v":-0.05},{"f":3531,"v":0.15},{"f":3541,"v":0.08},{"f":3551,"v":0.18},{"f":3561,"v":0.0},{"f":3571,"v":0.15},{"f":3581,"v":0.05},{"f":3591,"v":0.2},
{"f":3601,"v":0.02},{"f":3611,"v":0.18},{"f":3621,"v":0.08},{"f":3631,"v":0.16},{"f":3641,"v":0.0},{"f":3651,"v":0.2},{"f":3661,"v":0.05},{"f":3671,"v":0.22},{"f":3681,"v":0.05},{"f":3691,"v":0.18},
{"f":3700,"v":0.15}],
    "d": [{"f":1,"v":0},{"f":60,"v":0},{"f":125,"v":0},{"f":153,"v":-0.055},{"f":195,"v":-0.22},{"f":238,"v":-0.34},{"f":280,"v":-0.13},{"f":294,"v":-0.11},{"f":322,"v":-0.14},{"f":350,"v":-0.15},{"f":378,"v":-0.33},{"f":421,"v":-0.34},{"f":463,"v":-0.42},{"f":505,"v":-0.38},{"f":547,"v":-0.32},{"f":567,"v":-0.24},{"f":595,"v":-0.56},{"f":618,"v":-0.22},{"f":640,"v":-0.2},{"f":668,"v":-0.23},{"f":696,"v":-0.12},{"f":716,"v":-0.14},{"f":753,"v":-0.26},{"f":787,"v":-0.1},{"f":815,"v":0.064},{"f":843,"v":0.029},{"f":885,"v":-0.02},{"f":913,"v":-0.079},{"f":933,"v":-0.18},{"f":961,"v":-0.083},{"f":984,"v":-0.17},{"f":1012,"v":-0.17},{"f":1040,"v":-0.29},{"f":1082,"v":-0.4},{"f":1124,"v":-0.41},{"f":1152,"v":-0.38},{"f":1181,"v":-0.42},{"f":1214,"v":-0.58},{"f":1257,"v":-0.69},{"f":1293,"v":-0.48},{"f":1321,"v":-0.15},{"f":1350,"v":0.23},{"f":1372,"v":0.74},{"f":1392,"v":0.75},{"f":1406,"v":0.79},{"f":1420,"v":0.56},{"f":1440,"v":0.12},{"f":1462,"v":0.21},{"f":1485,"v":0.14},{"f":1518,"v":0.04},{"f":1547,"v":0.064},{"f":1589,"v":0.045},{"f":1631,"v":-0.007},{"f":1673,"v":-0.13},{"f":1715,"v":-0.21},{"f":1758,"v":-0.39},{"f":1786,"v":-0.65},{"f":1814,"v":-0.41},{"f":1834,"v":-0.53},{"f":1856,"v":-0.41},{"f":1884,"v":-0.21},{"f":1913,"v":-0.079},{"f":1941,"v":-0.043},{"f":1963,"v":-0.062},{"f":1991,"v":0.064},{"f":2011,"v":-0.05},{"f":2031,"v":0.064},{"f":2053,"v":0.012},{"f":2076,"v":0.057},{"f":2095,"v":0.017},{"f":2138,"v":0.005},{"f":2180,"v":-0.02},{"f":2208,"v":0.02},{"f":2236,"v":0.012},{"f":2256,"v":-0.048},{"f":2278,"v":0.02},{"f":2307,"v":0.0},{"f":2363,"v":0.0},{"f":2419,"v":-0.002},{"f":2476,"v":0.0},{"f":2518,"v":0.04},{"f":2560,"v":0.23},{"f":2602,"v":0.56},{"f":2630,"v":0.59},{"f":2659,"v":0.56},{"f":2687,"v":0.35},{"f":2715,"v":0.23},{"f":2743,"v":0.15},{"f":2771,"v":0.076},{"f":2813,"v":0.1},{"f":2847,"v":0.12},{"f":2884,"v":-0.007},{"f":2912,"v":-0.09},{"f":2940,"v":-0.067},{"f":2996,"v":-0.12},{"f":3039,"v":-0.09},{"f":3081,"v":-0.02},{"f":3109,"v":0.012},{"f":3151,"v":-0.026},{"f":3193,"v":0.017},{"f":3236,"v":0.23},{"f":3264,"v":0.33},{"f":3292,"v":0.66},{"f":3314,"v":0.4},{"f":3334,"v":0.52},{"f":3348,"v":0.61},{"f":3362,"v":0.4},{"f":3390,"v":0.088},{"f":3418,"v":0.0},{"f":3475,"v":-0.014},{"f":3503,"v":-0.043},{"f":3523,"v":-0.02},{"f":3551,"v":-0.055},{"f":3601,"v":-0.043},{"f":3644,"v":-0.007},{"f":3700,"v":0.012}]
  },
  "vconcat": [
    {
      "hconcat": [
        {
          "width": 452, "height": 290,
          "view": {"stroke": "#808080", "strokeWidth": 1},
          "title": {"text": "(a)", "orient": "bottom", "frame": "group", "anchor": "middle", "dx": -26, "offset": 10, "fontSize": 28},
          "layer": [
            {
              "data": {"values": [{}]},
              "mark": {"type": "rule", "color": "#a6a6a6", "strokeWidth": 1.5},
              "encoding": {
                "x": {"datum": 1, "type": "quantitative", "scale": {"domain": [1, 3700], "nice": false, "zero": false},
                      "axis": {"orient": "top", "title": "Front camera Y", "labels": false, "ticks": false, "domain": false, "titleFont": "Liberation Serif", "titleFontSize": 32, "titleX": 254, "titleY": -14, "titleBaseline": "alphabetic", "titleAlign": "center"}},
                "x2": {"datum": 3700},
                "y": {"datum": 0, "type": "quantitative", "scale": {"domain": [-2, 2], "nice": false},
                      "axis": {"values": [-2, 0, 2], "labelExpr": "'' + datum.value", "title": "Degree", "labelFontSize": 22, "labelPadding": 20, "tickSize": 9, "tickColor": "#404040", "domainColor": "black", "domainWidth": 1, "titleFontSize": 27, "titleX": -69.5, "titleY": 153, "titleBaseline": "middle", "titleAlign": "center"}}
              }
            },
            {
              "data": {"name": "a"},
              "mark": {"type": "line", "color": "black", "strokeWidth": 1.8, "clip": true},
              "encoding": {
                "x": {"field": "f", "type": "quantitative",
                      "axis": {"orient": "bottom", "values": [1, 3700], "labelExpr": "'' + datum.value", "title": "Frame", "labelFontSize": 23, "labelBaseline": "alphabetic", "labelPadding": 37, "tickSize": 9, "tickColor": "#404040", "domainColor": "#404040", "domainWidth": 1, "labelFlush": false, "labelOverlap": false,
                               "tickOpacity": {"condition": {"test": "datum.value > 2", "value": 0}, "value": 1},
                               "labelAlign": {"condition": {"test": "datum.value < 2", "value": "center"}, "value": "right"},
                               "labelOffset": {"condition": {"test": "datum.value > 2", "value": -4}, "value": 0},
                               "titleFontSize": 27, "titleX": 206, "titleY": 51, "titleBaseline": "alphabetic", "titleAlign": "center"}},
                "y": {"field": "v", "type": "quantitative",
                      "axis": {"values": [-2, 0, 2], "labelExpr": "'' + datum.value", "title": "Degree", "labelFontSize": 22, "labelPadding": 20, "tickSize": 9, "tickColor": "#404040", "domainColor": "black", "domainWidth": 1, "titleFontSize": 27, "titleX": -69.5, "titleY": 153, "titleBaseline": "middle", "titleAlign": "center"}}
              }
            }
          ],
          "resolve": {"axis": {"x": "independent"}}
        },
        {
          "width": 447, "height": 298,
          "title": {"text": "(b)", "orient": "bottom", "frame": "group", "anchor": "middle", "dx": -15, "offset": 9, "fontSize": 28},
          "layer": [
            {
              "data": {"values": [{}]},
              "mark": {"type": "rule", "color": "#a6a6a6", "strokeWidth": 1.5},
              "encoding": {
                "x": {"datum": 1, "type": "quantitative", "scale": {"domain": [1, 3700], "nice": false, "zero": false},
                      "axis": {"orient": "top", "title": "Rear camera Y", "labels": false, "ticks": false, "domain": false, "titleFont": "Liberation Serif", "titleFontSize": 31, "titleX": 268, "titleY": -11, "titleBaseline": "alphabetic", "titleAlign": "center"}},
                "x2": {"datum": 3700},
                "y": {"datum": 0, "type": "quantitative", "scale": {"domain": [-2, 2], "nice": false},
                      "axis": {"values": [-2, 0, 2], "labelExpr": "'' + datum.value", "title": "Degree", "labelFontSize": 22, "labelPadding": 19, "tickSize": 10, "domainWidth": 2, "titleFontSize": 27, "titleX": -69, "titleY": 156.5, "titleBaseline": "middle", "titleAlign": "center"}}
              }
            },
            {
              "data": {"name": "b"},
              "mark": {"type": "line", "color": "black", "strokeWidth": 1.8, "clip": true},
              "encoding": {
                "x": {"field": "f", "type": "quantitative",
                      "axis": {"orient": "bottom", "values": [1, 3700], "labelExpr": "'' + datum.value", "title": "Frame", "labelFontSize": 23, "labelBaseline": "alphabetic", "labelPadding": 37, "tickSize": 9, "domainWidth": 2, "labelFlush": false, "labelOverlap": false,
                               "tickOpacity": {"condition": {"test": "datum.value > 2", "value": 0}, "value": 1},
                               "labelAlign": {"condition": {"test": "datum.value < 2", "value": "center"}, "value": "right"},
                               "labelOffset": {"condition": {"test": "datum.value > 2", "value": -8}, "value": 0},
                               "titleFontSize": 26, "titleX": 203, "titleY": 37, "titleBaseline": "alphabetic", "titleAlign": "center"}},
                "y": {"field": "v", "type": "quantitative",
                      "axis": {"values": [-2, 0, 2], "labelExpr": "'' + datum.value", "title": "Degree", "labelFontSize": 22, "labelPadding": 19, "tickSize": 10, "domainWidth": 2, "titleFontSize": 27, "titleX": -69, "titleY": 156.5, "titleBaseline": "middle", "titleAlign": "center"}}
              }
            }
          ],
          "resolve": {"axis": {"x": "independent"}}
        }
      ],
      "spacing": 139,
      "bounds": "flush",
      "center": true
    },
    {
      "hconcat": [
        {
          "width": 453, "height": 273,
          "title": {"text": "(c)", "orient": "bottom", "frame": "group", "anchor": "middle", "dx": -17, "offset": 26, "fontSize": 28},
          "layer": [
            {
              "data": {"values": [{}]},
              "mark": {"type": "rule", "color": "#808080", "strokeWidth": 1},
              "encoding": {
                "x": {"datum": 1, "type": "quantitative", "scale": {"domain": [1, 3700], "nice": false, "zero": false},
                      "axis": {"orient": "top", "title": "Sensor\u2002 yaw", "labels": false, "ticks": false, "domain": false, "titleFont": "Liberation Serif", "titleFontSize": 31, "titleX": 204, "titleY": -28, "titleBaseline": "alphabetic", "titleAlign": "center"}},
                "x2": {"datum": 3700},
                "y": {"datum": 0, "type": "quantitative", "scale": {"domain": [-1, 1], "nice": false},
                      "axis": {"values": [-1, 0, 1], "labelExpr": "'' + datum.value", "title": "Degree", "labelFontSize": 23, "labelPadding": 20, "tickSize": 8, "domainWidth": 2, "titleFontSize": 28, "titleX": -69, "titleY": 130, "titleBaseline": "middle", "titleAlign": "center"}}
              }
            },
            {
              "data": {"name": "c"},
              "mark": {"type": "line", "color": "black", "strokeWidth": 1.7, "clip": true},
              "encoding": {
                "x": {"field": "f", "type": "quantitative",
                      "axis": {"orient": "bottom", "values": [1, 3700], "labelExpr": "'' + datum.value", "title": "Frame", "labelFontSize": 23, "labelBaseline": "alphabetic", "labelPadding": 31, "tickSize": 9, "domainWidth": 2, "labelFlush": false, "labelOverlap": false,
                               "tickOpacity": {"condition": {"test": "datum.value > 2", "value": 0}, "value": 1},
                               "labelAlign": {"condition": {"test": "datum.value < 2", "value": "center"}, "value": "right"},
                               "labelOffset": {"condition": {"test": "datum.value > 2", "value": -6}, "value": 0},
                               "titleFontSize": 31, "titleX": 229, "titleY": 52, "titleBaseline": "alphabetic", "titleAlign": "center"}},
                "y": {"field": "v", "type": "quantitative",
                      "axis": {"values": [-1, 0, 1], "labelExpr": "'' + datum.value", "title": "Degree", "labelFontSize": 23, "labelPadding": 20, "tickSize": 8, "domainWidth": 2, "titleFontSize": 28, "titleX": -69, "titleY": 130, "titleBaseline": "middle", "titleAlign": "center"}}
              }
            }
          ],
          "resolve": {"axis": {"x": "independent"}}
        },
        {
          "width": 438, "height": 280,
          "title": {"text": "(d)", "orient": "bottom", "frame": "group", "anchor": "middle", "dx": -14, "offset": 20, "fontSize": 28},
          "layer": [
            {
              "data": {"values": [{}]},
              "mark": {"type": "rule", "color": "#909090", "strokeWidth": 1},
              "encoding": {
                "x": {"datum": 1, "type": "quantitative", "scale": {"domain": [1, 3700], "nice": false, "zero": false},
                      "axis": {"orient": "top", "title": "GPS\u00a0 angle", "labels": false, "ticks": false, "domain": false, "titleFont": "Lato", "titleFontWeight": "bold", "titleFontSize": 28, "titleX": 198, "titleY": -25, "titleBaseline": "alphabetic", "titleAlign": "center"}},
                "x2": {"datum": 3700},
                "y": {"datum": 0, "type": "quantitative", "scale": {"domain": [-1, 1], "nice": false},
                      "axis": {"values": [-1, 0, 1], "labelExpr": "'' + datum.value", "title": "Degree", "labelFontSize": 22, "labelPadding": 17, "tickSize": 9, "domainWidth": 2, "titleFontSize": 27, "titleX": -64.5, "titleY": 136, "titleBaseline": "middle", "titleAlign": "center"}}
              }
            },
            {
              "data": {"name": "d"},
              "mark": {"type": "line", "color": "black", "strokeWidth": 2, "clip": true},
              "encoding": {
                "x": {"field": "f", "type": "quantitative",
                      "axis": {"orient": "bottom", "values": [1, 3700], "labelExpr": "'' + datum.value", "title": "Frame", "labelFontSize": 21, "labelBaseline": "alphabetic", "labelPadding": 39, "tickSize": 9, "domainWidth": 2, "labelFlush": false, "labelOverlap": false,
                               "tickOpacity": {"condition": {"test": "datum.value > 2", "value": 0}, "value": 1},
                               "labelAlign": {"condition": {"test": "datum.value < 2", "value": "center"}, "value": "right"},
                               "labelOffset": {"condition": {"test": "datum.value > 2", "value": -4}, "value": 0},
                               "titleFontSize": 25, "titleX": 207, "titleY": 51, "titleBaseline": "alphabetic", "titleAlign": "center"}},
                "y": {"field": "v", "type": "quantitative",
                      "axis": {"values": [-1, 0, 1], "labelExpr": "'' + datum.value", "title": "Degree", "labelFontSize": 22, "labelPadding": 17, "tickSize": 9, "domainWidth": 2, "titleFontSize": 27, "titleX": -64.5, "titleY": 136, "titleBaseline": "middle", "titleAlign": "center"}}
              }
            }
          ],
          "resolve": {"axis": {"x": "independent"}}
        }
      ],
      "spacing": 149,
      "bounds": "flush"
    }
  ],
  "config": {
    "view": {"stroke": "black", "strokeWidth": 2},
    "axis": {"grid": false, "labelColor": "black", "titleColor": "black", "labelFont": "Lato", "titleFont": "Lato", "titleFontWeight": "normal", "tickColor": "black", "domainColor": "black"},
    "title": {"font": "Liberation Serif", "fontWeight": "normal", "color": "black"}
  }
}
